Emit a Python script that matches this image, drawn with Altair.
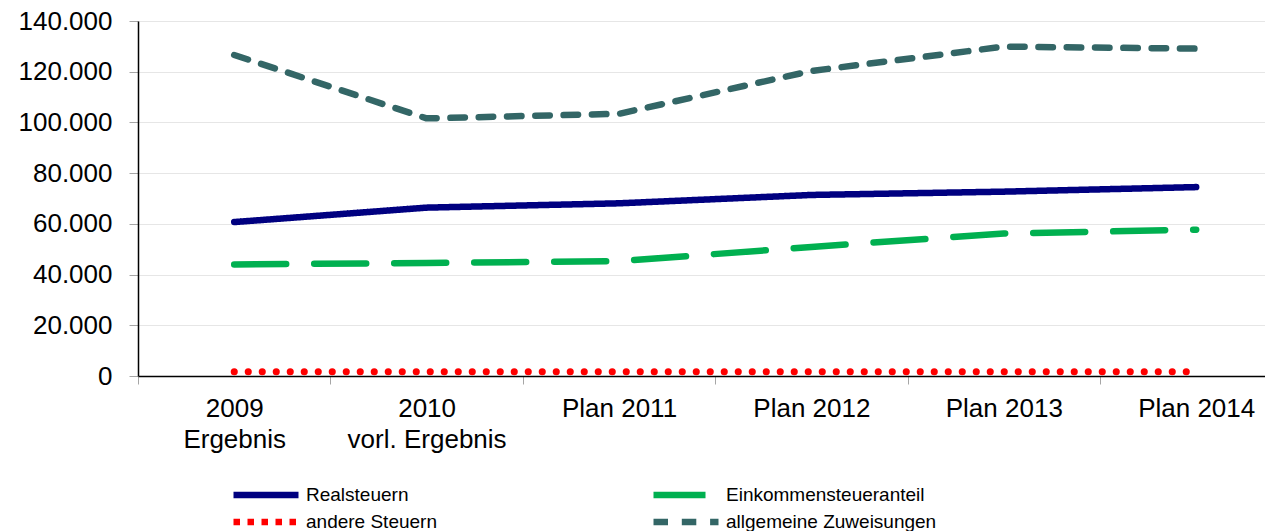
import altair as alt
import pandas as pd

# --- data -------------------------------------------------------------
label_lines = [["2009", "Ergebnis"], ["2010", "vorl. Ergebnis"], ["Plan 2011"],
               ["Plan 2012"], ["Plan 2013"], ["Plan 2014"]]
idx = [0, 1, 2, 3, 4, 5]

# legend order (column-major with 2 columns -> rows: Realsteuern / Einkommensteueranteil,
# andere Steuern / allgemeine Zuweisungen)
series = ["Realsteuern", "andere Steuern", "Einkommensteueranteil", "allgemeine Zuweisungen"]
realsteuern = [60700, 66400, 68100, 71400, 72700, 74500]
andere_steuern = [1700, 1700, 1700, 1700, 1700, 1700]
einkommensteueranteil = [44000, 44600, 45300, 50900, 56200, 57700]
zuweisungen = [126600, 101600, 103400, 120300, 129900, 129100]

colors = ["#000080", "#FF0000", "#00B050", "#336666"]
legend_dashes = [[1, 0], [6.5, 7.5], [52, 28], [14.5, 13.8]]
dot_dash = [0.1, 13.9]

values_by_series = [realsteuern, andere_steuern, einkommensteueranteil, zuweisungen]
rows = []
for s, vals in zip(series, values_by_series):
    for i, v in zip(idx, vals):
        rows.append({"i": i, "serie": s, "wert": v})
df = pd.DataFrame(rows)

FONT = "Liberation Sans"
band = 192.4
W = 1127
H = 355
xmax = W / band - 0.5

label_js = "[" + ",".join("[" + ",".join("'" + t + "'" for t in l) + "]" for l in label_lines) + "]"

x_enc = alt.X("i:Q", scale=alt.Scale(domain=[-0.5, xmax], nice=False, zero=False),
              axis=alt.Axis(values=idx, title=None, grid=False,
                            labelExpr=label_js + "[datum.value]",
                            tickOffset=-band / 2, labelOffset=band / 2,
                            tickSize=8, tickColor="#A6A6A6", tickWidth=1,
                            domainColor="#000000", domainWidth=1.5,
                            labelFont=FONT, labelFontSize=26, labelColor="#000000",
                            labelPadding=11, labelLineHeight=31, labelBaseline="top"))
y_enc = alt.Y("wert:Q", scale=alt.Scale(domain=[0, 140000], nice=False),
              axis=alt.Axis(values=[0, 20000, 40000, 60000, 80000, 100000, 120000, 140000],
                            title=None, labelExpr="replace(format(datum.value, ','), ',', '.')",
                            gridColor="#E6E6E6", gridWidth=1,
                            tickSize=9, tickColor="#A6A6A6", tickWidth=1,
                            domainColor="#000000", domainWidth=1.5,
                            labelFont=FONT, labelFontSize=26, labelColor="#000000",
                            labelPadding=17))

legend = alt.Legend(orient="none", legendX=92, legendY=464, columns=2,
                    columnPadding=213, rowPadding=7, symbolType="stroke", clipHeight=20,
                    symbolSize=4225, symbolStrokeWidth=6.5, labelFontSize=19,
                    labelFont=FONT, labelColor="#000000", title=None, labelLimit=400,
                    padding=0, labelOffset=4)

color_enc = alt.Color("serie:N", scale=alt.Scale(domain=series, range=colors), legend=legend)

base = alt.Chart(df)

lines = base.mark_line(
    strokeWidth=6.5, strokeCap="round", strokeJoin="round"
).encode(
    x=x_enc, y=y_enc, color=color_enc,
    strokeDash=alt.StrokeDash("serie:N", scale=alt.Scale(domain=series, range=legend_dashes),
                              legend=legend),
).transform_filter(alt.datum.serie != "andere Steuern")

dots = base.mark_line(
    strokeWidth=7, strokeCap="round", strokeDash=dot_dash
).encode(
    x=x_enc, y=y_enc, color=color_enc,
).transform_filter(alt.datum.serie == "andere Steuern")

chart = alt.layer(dots, lines).properties(
    width=W, height=H,
    padding={"left": 10, "top": 0, "right": 0, "bottom": 0},
).configure_view(stroke=None)

chart.save("out.html", embed_options={"renderer": "svg", "actions": False})
